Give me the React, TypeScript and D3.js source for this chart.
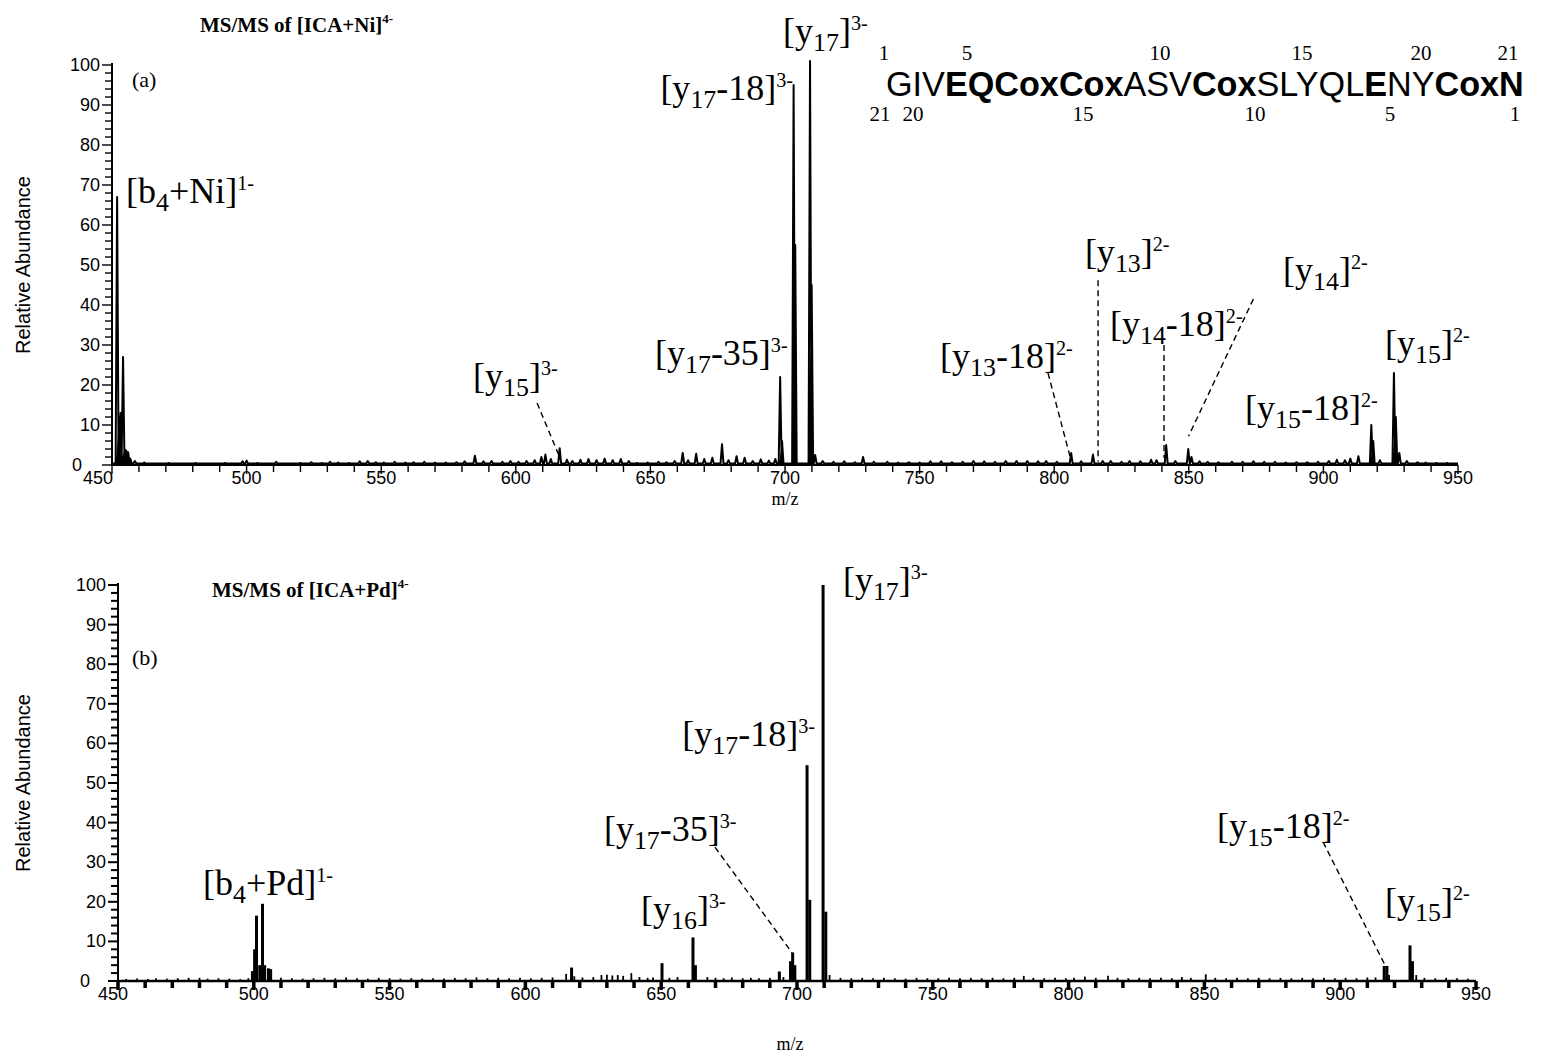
import React from "react";
import * as d3 from "d3";

// ---------- data ----------
const MZ_DOMAIN: [number, number] = [450, 950];
const ABUNDANCE_DOMAIN: [number, number] = [0, 100];
const X_MAJOR_TICKS = [450, 500, 550, 600, 650, 700, 750, 800, 850, 900, 950];
const Y_MAJOR_TICKS = [0, 10, 20, 30, 40, 50, 60, 70, 80, 90, 100];

// Panel (a): [ICA+Ni]4- profile peaks [m/z, relative abundance]
const NI_PEAKS: [number, number][] = [
  [451.9, 67], [452.6, 12], [453.2, 13], [454.1, 27], [454.7, 4], [455.3, 3.6], [456.0, 3.2], [456.8, 1.6], [458.5, 1.0],
  [462, 0.6], [466, 0.4], [471, 0.5], [476, 0.4], [481, 0.5], [486, 0.4], [492, 0.5], [498.5, 0.9], [500, 1.1],
  [504, 0.5], [511, 0.8], [516, 0.4], [520, 0.5], [524, 0.7], [528, 0.5], [531, 0.8], [534, 0.6], [538, 0.5],
  [542, 0.9], [545, 1.0], [548, 0.7], [551, 0.6], [555, 0.8], [559, 0.6], [562, 0.7], [566, 0.8], [570, 0.6],
  [574, 0.6], [578, 0.7], [581, 0.9], [584.8, 2.3], [588, 0.9], [591, 1.0], [595, 0.8], [598, 1.0], [601, 0.8],
  [604, 1.0], [607, 1.2], [609.5, 2.0], [611, 2.6], [613, 1.5], [616.3, 4.2], [619, 1.3], [621, 1.0], [624, 1.3],
  [627, 1.5], [630, 1.2], [633, 1.6], [636, 1.2], [639, 1.5], [642, 1.0], [645, 0.5], [649, 0.6], [653, 0.8],
  [656, 0.7], [659, 1.0], [662, 3.0], [664, 1.2], [667, 2.8], [670, 1.5], [673, 1.8], [676.6, 5.2], [679, 1.2],
  [682, 2.2], [685, 1.8], [688, 1.0], [691, 1.4], [694, 1.1], [696.4, 1.5],
  [698.2, 22], [698.9, 6], [703.2, 95], [703.8, 55], [709.3, 101], [709.9, 45], [711.2, 2.5],
  [714, 1.0], [718, 0.8], [722, 0.9], [726, 0.7], [729, 2.0], [733, 0.8], [738, 0.8], [742, 0.6], [746, 0.7],
  [750, 0.6], [754, 0.9], [758, 0.9], [762, 0.7], [766, 0.8], [770, 1.0], [774, 0.9], [778, 0.8], [782, 1.0],
  [786, 1.0], [790, 1.0], [794, 0.9], [797, 1.0], [801, 0.8], [806.3, 3.0], [810, 0.9], [814.4, 2.6], [818, 1.0],
  [821, 1.0], [825, 0.8], [828, 1.0], [832, 0.9], [836, 1.3], [838, 1.2], [841.6, 5.0], [845, 1.0],
  [849.8, 4.0], [851, 2.0], [854, 0.9], [857, 0.8], [861, 0.7], [866, 0.8], [870, 0.8], [874, 0.9], [878, 0.8],
  [882, 0.8], [886, 0.6], [890, 0.7], [894, 0.7], [898, 0.8], [902, 1.0], [905, 1.3], [908, 1.2], [910, 1.6],
  [913, 2.2], [917.8, 10], [918.5, 6], [921, 1.2], [926.2, 23], [926.9, 12], [928.2, 3], [931, 1.0], [935, 0.7],
  [938, 0.6], [942, 0.5], [946, 0.5],
];

// Panel (b): [ICA+Pd]4- stick peaks [m/z, relative abundance]
const PD_PEAKS: [number, number][] = [
  [453, 0.5], [457, 0.6], [461, 0.5], [464, 0.7], [468, 0.6], [472, 0.7], [476, 0.8], [480, 0.8], [483, 0.6],
  [487, 0.7], [491, 0.6], [495, 0.5], [498, 0.7],
  [499.5, 2.5], [500.3, 8], [501.0, 16.5], [502.2, 4], [503.2, 19.5], [504.0, 4], [505.4, 3.2], [506.2, 3.0],
  [510, 0.8], [514, 0.7], [518, 0.6], [522, 0.7], [526, 0.8], [530, 0.7], [534, 0.9], [538, 0.7], [542, 0.6],
  [546, 0.8], [550, 0.7], [554, 0.6], [558, 0.7], [562, 0.6], [566, 0.7], [570, 0.6], [574, 0.8], [578, 0.7],
  [582, 0.9], [586, 0.7], [590, 0.8], [594, 0.7], [598, 0.8], [602, 0.7], [606, 0.8], [610, 0.9],
  [615, 1.8], [617, 3.4], [618, 1.2], [621, 0.9], [625, 1.0], [628, 1.5], [630, 1.6], [632, 1.4], [634, 1.5],
  [636, 1.3], [639, 2.0], [642, 1.0], [645, 0.8], [647, 0.9], [650.3, 4.5], [653, 0.8], [656, 1.0],
  [661.7, 11], [662.6, 4], [667, 1.0], [670, 0.8], [673, 0.7], [676, 0.9], [680, 0.7], [683, 0.8], [686, 0.7],
  [690, 0.8], [693.5, 2.4], [695, 1.0], [697.6, 5], [698.4, 7.2], [699.2, 4], [703.7, 54.5], [704.7, 20.5],
  [709.6, 100], [710.6, 17.5], [712, 1.5],
  [716, 0.8], [720, 0.7], [724, 0.8], [728, 0.7], [732, 0.8], [736, 0.7], [740, 0.6], [744, 0.8], [748, 0.7],
  [752, 0.7], [756, 0.8], [760, 0.7], [764, 0.8], [768, 0.7], [772, 0.8], [776, 0.7], [780, 0.8], [783.5, 1.3],
  [787, 0.8], [791, 0.7], [795, 0.8], [799, 0.7], [802, 0.8], [806, 1.1], [810, 0.8], [814.5, 1.3], [818, 0.8],
  [822, 0.7], [826, 0.8], [830, 0.7], [834, 0.8], [838, 0.7], [841.7, 1.0], [845, 0.8], [850.5, 1.7], [854, 0.8],
  [858, 0.7], [862, 0.8], [866, 0.7], [870, 0.8], [874, 0.7], [878, 0.8], [882, 0.7], [886, 0.8], [890, 0.7],
  [894, 0.8], [898, 0.7], [902, 0.8], [906, 0.7], [910, 0.9], [913, 0.9],
  [916.2, 3.8], [917.2, 3.8], [918, 1.5], [925.7, 9], [926.6, 5], [928, 1.5],
  [931, 0.8], [935, 0.7], [939, 0.8], [943, 0.7], [947, 0.6],
];

// Peptide sequence: [text, bold]
const SEQ_PARTS: [string, boolean][] = [
  ["GIV", false], ["EQCoxCox", true], ["ASV", false], ["Cox", true], ["SLYQL", false], ["E", true], ["NY", false], ["CoxN", true],
];
const SEQ_TOP_NUMS = ["1", "5", "10", "15", "20", "21"];
const SEQ_BOTTOM_NUMS = ["21", "20", "15", "10", "5", "1"];

type Ion = { base: string; sub: string; mid: string; sup: string; mz: number; ab: number; anchor: "start" | "end" };

const NI_IONS: Ion[] = [
  { base: "[b", sub: "4", mid: "+Ni]", sup: "1-", mz: 455.2, ab: 65.5, anchor: "start" },
  { base: "[y", sub: "17", mid: "]", sup: "3-", mz: 699.3, ab: 105.5, anchor: "start" },
  { base: "[y", sub: "17", mid: "-18]", sup: "3-", mz: 703.0, ab: 91.2, anchor: "end" },
  { base: "[y", sub: "15", mid: "]", sup: "3-", mz: 584.1, ab: 19.2, anchor: "start" },
  { base: "[y", sub: "17", mid: "-35]", sup: "3-", mz: 651.7, ab: 25.0, anchor: "start" },
  { base: "[y", sub: "13", mid: "-18]", sup: "2-", mz: 757.6, ab: 24.2, anchor: "start" },
  { base: "[y", sub: "13", mid: "]", sup: "2-", mz: 811.4, ab: 50.2, anchor: "start" },
  { base: "[y", sub: "14", mid: "-18]", sup: "2-", mz: 820.7, ab: 32.2, anchor: "start" },
  { base: "[y", sub: "14", mid: "]", sup: "2-", mz: 885.0, ab: 45.7, anchor: "start" },
  { base: "[y", sub: "15", mid: "-18]", sup: "2-", mz: 870.9, ab: 11.2, anchor: "start" },
  { base: "[y", sub: "15", mid: "]", sup: "2-", mz: 922.9, ab: 27.5, anchor: "start" },
];

const PD_IONS: Ion[] = [
  { base: "[y", sub: "17", mid: "]", sup: "3-", mz: 716.9, ab: 98.2, anchor: "start" },
  { base: "[y", sub: "17", mid: "-18]", sup: "3-", mz: 706.6, ab: 59.3, anchor: "end" },
  { base: "[y", sub: "17", mid: "-35]", sup: "3-", mz: 628.9, ab: 35.4, anchor: "start" },
  { base: "[y", sub: "16", mid: "]", sup: "3-", mz: 642.6, ab: 15.2, anchor: "start" },
  { base: "[b", sub: "4", mid: "+Pd]", sup: "1-", mz: 481.3, ab: 21.7, anchor: "start" },
  { base: "[y", sub: "15", mid: "-18]", sup: "2-", mz: 854.6, ab: 36.1, anchor: "start" },
  { base: "[y", sub: "15", mid: "]", sup: "2-", mz: 916.5, ab: 17.2, anchor: "start" },
];

// Dashed leader lines [mz1, ab1, mz2, ab2]
const NI_LEADERS: [number, number, number, number][] = [
  [607.9, 15.5, 616.4, 1.8],
  [797.7, 23.0, 806.2, 1.3],
  [816.3, 46.2, 816.3, 0.8],
  [840.8, 30.0, 840.8, 1.8],
  [874.0, 41.5, 849.9, 7.2],
];
const PD_LEADERS: [number, number, number, number][] = [
  [669.8, 33.8, 698.2, 7.1],
  [893.7, 35.1, 916.5, 4.0],
];

// ---------- layout ----------
const W = 1544, H = 1060;
const SERIF = "'Liberation Serif', 'Times New Roman', serif";
const SANS = "'Liberation Sans', Arial, Helvetica, sans-serif";

const PANEL_A = { x0: 112, x1: 1458, y0: 465, y1: 65 };
const PANEL_B = { x0: 118, x1: 1476, y0: 981, y1: 585 };

function IonLabel({ ion, x, y, size = 36 }: { ion: Ion; x: number; y: number; size?: number }) {
  const subShift = size * 0.22;
  const supShift = size * 0.36;
  return (
    <text x={x} y={y} textAnchor={ion.anchor} fontFamily={SERIF} fontSize={size} fill="#000">
      <tspan>{ion.base}</tspan>
      <tspan fontSize={size * 0.72} dy={subShift}>{ion.sub}</tspan>
      <tspan dy={-subShift}>{ion.mid}</tspan>
      <tspan fontSize={size * 0.56} dy={-supShift}>{ion.sup}</tspan>
    </text>
  );
}

function Axes({ x, y, heavy, firstLabelShift, zeroShift }: { x: d3.ScaleLinear<number, number>; y: d3.ScaleLinear<number, number>; heavy: boolean; firstLabelShift: number; zeroShift: number }) {
  const minorX = x.ticks(50);
  const minorY = y.ticks(50);
  const [xa, xb] = x.range();
  const [ya, yb] = y.range();
  const tw = heavy ? 3.5 : 1.4;
  return (
    <g>
      <line x1={xa} x2={xa} y1={ya} y2={yb - 2} stroke="#000" strokeWidth={2} />
      <line x1={xa} x2={xb} y1={ya} y2={ya} stroke="#000" strokeWidth={heavy ? 2.6 : 2} />
      {minorY.map((v) => {
        const major = Y_MAJOR_TICKS.includes(v);
        return (
          <line key={"y" + v} x1={xa} x2={xa - (major ? 10 : 7)} y1={y(v)} y2={y(v)} stroke="#000" strokeWidth={heavy ? 2 : 1.4} />
        );
      })}
      {Y_MAJOR_TICKS.map((v, i) => (
        <text key={"yl" + v} x={xa - 12 + (i === 0 ? zeroShift : 0)} y={y(v) + 6} textAnchor="end" fontFamily={SANS} fontSize={18} fill="#000">{v}</text>
      ))}
      {minorX.map((v) => {
        const major = X_MAJOR_TICKS.includes(v);
        return (
          <line key={"x" + v} x1={x(v)} x2={x(v)} y1={ya} y2={ya + (major ? 9 : 7)} stroke="#000" strokeWidth={tw} />
        );
      })}
      {X_MAJOR_TICKS.map((v, i) => (
        <text key={"xl" + v} x={x(v) + (i === 0 ? firstLabelShift : 0)} y={ya + 19} textAnchor="middle" fontFamily={SANS} fontSize={18} fill="#000">{v}</text>
      ))}
    </g>
  );
}

export default function App() {
  const xA = d3.scaleLinear().domain(MZ_DOMAIN).range([PANEL_A.x0, PANEL_A.x1]);
  const yA = d3.scaleLinear().domain(ABUNDANCE_DOMAIN).range([PANEL_A.y0, PANEL_A.y1]);
  const xB = d3.scaleLinear().domain(MZ_DOMAIN).range([PANEL_B.x0, PANEL_B.x1]);
  const yB = d3.scaleLinear().domain(ABUNDANCE_DOMAIN).range([PANEL_B.y0, PANEL_B.y1]);

  // profile spectrum for panel (a): each peak drawn as a narrow triangle on the baseline
  const halfWidth = 0.55;
  const base = 0.35;
  const sortedNi = [...NI_PEAKS].sort((a, b) => a[0] - b[0]);
  const profile: [number, number][] = [[MZ_DOMAIN[0], base]];
  sortedNi.forEach(([m, a]) => {
    profile.push([m - halfWidth, base], [m, a], [m + halfWidth, base]);
  });
  profile.push([MZ_DOMAIN[1], base]);
  const lineA = d3.line<[number, number]>().x((d) => xA(d[0])).y((d) => yA(d[1]));

  const sortedPd = [...PD_PEAKS].sort((a, b) => a[0] - b[0]);

  // sequence number positions (layout)
  const topNumX = [884, 967, 1160, 1302, 1421, 1508];
  const botNumX = [880, 913, 1083, 1255, 1390, 1515];

  return (
    <svg width={W} height={H} viewBox={`0 0 ${W} ${H}`} style={{ position: "absolute", left: 0, top: 0, background: "#fff" }}>
      <rect width={W} height={H} fill="#fff" />

      {/* ----- Panel (a) ----- */}
      <text x={200} y={32} fontFamily={SERIF} fontWeight="bold" fontSize={21} fill="#000">
        MS/MS of [ICA+Ni]<tspan fontSize={13} dy={-9}>4-</tspan>
      </text>
      <text x={132} y={87} fontFamily={SERIF} fontSize={22} fill="#000">(a)</text>
      <text transform={`translate(30,${(PANEL_A.y0 + PANEL_A.y1) / 2}) rotate(-90)`} textAnchor="middle" fontFamily={SANS} fontSize={20} fill="#000">
        Relative Abundance
      </text>
      <Axes x={xA} y={yA} heavy={false} firstLabelShift={-14} zeroShift={-18} />
      <path d={lineA(profile) || ""} fill="none" stroke="#000" strokeWidth={2} strokeLinejoin="round" />
      <text x={785} y={505} textAnchor="middle" fontFamily={SERIF} fontSize={18} fill="#000">m/z</text>

      {NI_IONS.map((ion, i) => (
        <IonLabel key={"ni" + i} ion={ion} x={xA(ion.mz)} y={yA(ion.ab)} />
      ))}
      {NI_LEADERS.map(([m1, a1, m2, a2], i) => (
        <line key={"nl" + i} x1={xA(m1)} y1={yA(a1)} x2={xA(m2)} y2={yA(a2)} stroke="#000" strokeWidth={1.4} strokeDasharray="6,4" />
      ))}

      {/* sequence */}
      <text x={886} y={96} fontFamily={SANS} fontSize={34.2} fill="#000">
        {SEQ_PARTS.map(([t, b], i) => (
          <tspan key={i} fontWeight={b ? "bold" : "normal"}>{t}</tspan>
        ))}
      </text>
      {SEQ_TOP_NUMS.map((t, i) => (
        <text key={"tn" + i} x={topNumX[i]} y={60} textAnchor="middle" fontFamily={SERIF} fontSize={21} fill="#000">{t}</text>
      ))}
      {SEQ_BOTTOM_NUMS.map((t, i) => (
        <text key={"bn" + i} x={botNumX[i]} y={121} textAnchor="middle" fontFamily={SERIF} fontSize={21} fill="#000">{t}</text>
      ))}

      {/* ----- Panel (b) ----- */}
      <text x={212} y={597} fontFamily={SERIF} fontWeight="bold" fontSize={21} fill="#000">
        MS/MS of [ICA+Pd]<tspan fontSize={13} dy={-9}>4-</tspan>
      </text>
      <text x={132} y={665} fontFamily={SERIF} fontSize={22} fill="#000">(b)</text>
      <text transform={`translate(30,${(PANEL_B.y0 + PANEL_B.y1) / 2}) rotate(-90)`} textAnchor="middle" fontFamily={SANS} fontSize={20} fill="#000">
        Relative Abundance
      </text>
      <Axes x={xB} y={yB} heavy={true} firstLabelShift={-5} zeroShift={-16} />
      {sortedPd.map(([m, a], i) => (
        <line key={"pd" + i} x1={xB(m)} x2={xB(m)} y1={yB(0)} y2={yB(a)} stroke="#000" strokeWidth={a > 2 ? 3 : 1.8} />
      ))}
      <text x={790} y={1050} textAnchor="middle" fontFamily={SERIF} fontSize={18} fill="#000">m/z</text>

      {PD_IONS.map((ion, i) => (
        <IonLabel key={"pd" + i} ion={ion} x={xB(ion.mz)} y={yB(ion.ab)} />
      ))}
      {PD_LEADERS.map(([m1, a1, m2, a2], i) => (
        <line key={"pl" + i} x1={xB(m1)} y1={yB(a1)} x2={xB(m2)} y2={yB(a2)} stroke="#000" strokeWidth={1.4} strokeDasharray="6,4" />
      ))}
    </svg>
  );
}
